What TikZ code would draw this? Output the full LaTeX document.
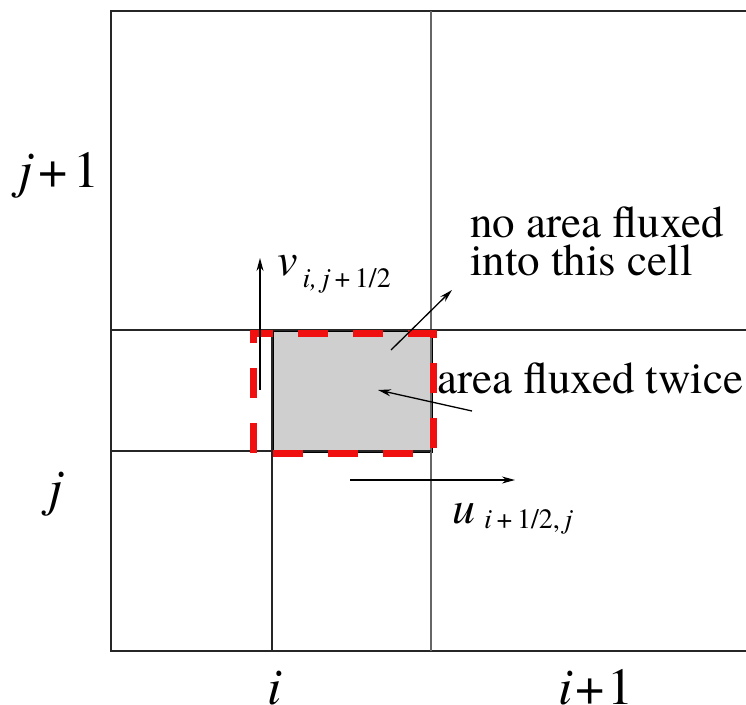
\documentclass[tikz,border=0pt]{standalone}
\usepackage{fontspec}
\setmainfont{texgyretermes}[Extension=.otf, UprightFont=*-regular, ItalicFont=*-italic, BoldFont=*-bold, BoldItalicFont=*-bolditalic]
\usetikzlibrary{arrows.meta}
\definecolor{cellgray}{HTML}{CFCFCF}
\definecolor{dashred}{HTML}{F01010}
\tikzset{
  gridline/.style={draw=black!85, line width=1.6pt},
  thinline/.style={draw=black!60, line width=1.3pt},
  flux/.style={draw=black, line width=1.3pt, -{Stealth[length=13pt,width=7pt]}},
  redbox/.style={draw=dashred, line width=7pt, dash pattern=on 30pt off 25pt},
  big/.style={font=\fontsize{52}{52}\selectfont, inner sep=0pt},
  txt/.style={font=\fontsize{45}{38}\selectfont, inner sep=0pt, align=left},
  sub/.style={font=\fontsize{46}{46}\selectfont, inner sep=0pt}
}
\newcommand{\subfnt}{\fontsize{28}{28}\selectfont}
\begin{document}
\begin{tikzpicture}[x=1pt,y=-1pt]
\useasboundingbox (0,0) rectangle (746,704);
% coordinates of grid
\coordinate (TL) at (111,11);
\coordinate (TR) at (746,11);
\coordinate (BL) at (111,651);
\coordinate (BR) at (746,651);
\coordinate (c1t) at (431,11);
\coordinate (c1b) at (431,651);
\coordinate (r1l) at (111,330);
\coordinate (r1r) at (746,330);
\coordinate (r2l) at (111,451);
\coordinate (r2r) at (431,451);
\coordinate (c0t) at (272,330);
\coordinate (c0b) at (272,651);
% shaded cell
\node (cell) [fill=cellgray, draw=black, line width=1.6pt, minimum width=159pt, minimum height=121pt, inner sep=0pt, anchor=north west] at (272,330) {};
% grid
\draw[gridline] (TR) -- (TL) -- (BL) -- (BR);
\draw[thinline] (c1t) -- (c1b);
\draw[gridline] (r1l) -- (r1r);
\draw[gridline] (r2l) -- (r2r);
\draw[gridline] (c0t) -- (c0b);
% red dashed region
\draw[redbox] (253,453) -- (253,333) -- (433,333) -- (433,453) -- cycle;
% velocity arrows
\coordinate (vs) at (260,390);
\coordinate (ve) at (260,258);
\draw[flux] (vs) -- (ve);
\coordinate (us) at (350,480);
\coordinate (ue) at (515,480);
\draw[flux] (us) -- (ue);
% annotation arrows
\coordinate (a1s) at (391,350);
\coordinate (a1e) at (452,290);
\draw[flux] (a1s) -- (a1e);
\coordinate (a2s) at (472,411);
\coordinate (a2e) at (378,390);
\draw[flux] (a2s) -- (a2e);
% labels
\node (vlab) [sub, anchor=base west] at (277,275) {\itshape v\hspace{5pt}\raisebox{-12pt}{\subfnt i,\,j\upshape\,+\,1/2}};
\node (ulab) [sub, anchor=base west] at (452,523) {\itshape u\hspace{9pt}\raisebox{-5pt}{\subfnt i\upshape\,+\,1/2,\,\itshape j}};
\node (t1) [txt, anchor=base west] at (470,275) {no area fluxed\\into this cell};
\node (t2) [txt, anchor=base west] at (437,393) {area fluxed twice};
\node (lj1) [big, anchor=base west] at (18,187) {\itshape j\upshape\hspace{6pt}+\hspace{6pt}1};
\node (lj) [big, anchor=base west] at (48,505) {\itshape j};
\node (li) [big, anchor=base west] at (267,704) {\itshape i};
\node (li1) [big, anchor=base west] at (558,704) {\itshape i\upshape\hspace{3pt}+\hspace{3pt}1};
\end{tikzpicture}
\end{document}
